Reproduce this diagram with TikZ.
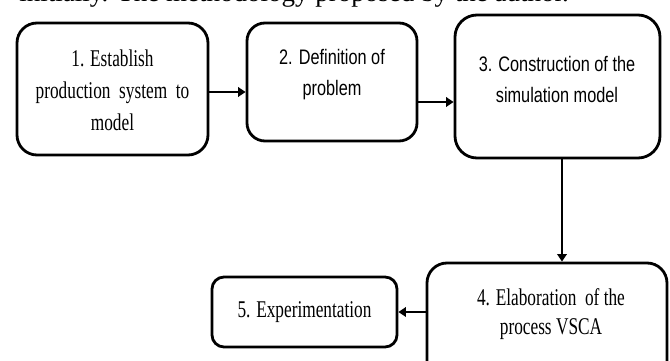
\documentclass[tikz,border=0pt]{standalone}
\usepackage{fontspec}
\setmainfont{Liberation Serif}
\newfontfamily\cserif[FakeStretch=0.72]{Liberation Serif}
\newfontfamily\csans[FakeStretch=0.776]{Liberation Sans}
\usetikzlibrary{arrows.meta}
\tikzset{
  boxnode/.style={draw=black, line width=2.8pt, fill=white, rectangle, inner sep=0pt},
  serift/.style={font=\fontsize{24}{32}\selectfont\cserif, align=center, inner sep=0pt},
  sanst/.style={font=\fontsize{21}{31}\selectfont\csans, align=center, inner sep=0pt},
  arr/.style={line width=2.7pt, -{Triangle[length=7.5pt,width=9.5pt]}}
}
\begin{document}
\begin{tikzpicture}[x=1pt,y=1pt]
\clip (0,0) rectangle (670,361);
\fill[white] (0,0) rectangle (670,361);
% clipped caption line at the top
\node[anchor=base, inner sep=0pt, font=\fontsize{27}{30}\selectfont] (cap) at (294,359) {initially. The methodology proposed by the author.};
% boxes
\node[boxnode, rounded corners=20pt, minimum width=191pt, minimum height=132pt] (b1) at (112.5,272) {};
\node[boxnode, rounded corners=18pt, minimum width=170pt, minimum height=118pt] (b2) at (332,279) {};
\node[boxnode, rounded corners=22pt, minimum width=205pt, minimum height=143pt] (b3) at (557.5,274.5) {};
\node[boxnode, rounded corners=20pt, minimum width=240pt, minimum height=122pt] (b4) at (547,37) {};
\node[boxnode, rounded corners=12pt, minimum width=185pt, minimum height=70pt] (b5) at (304.5,49) {};
% texts
\node[serift] (t1) at (112.5,271) {1. Establish\\production~ system~ to\\model};
\node[sanst] (t2) at (332,286) {2. Definition of\\problem};
\node[sanst] (t3) at (557,282) {3. Construction of the\\simulation model};
\node[serift, font=\fontsize{24}{29}\selectfont\cserif] (t4) at (551,47) {4. Elaboration~ of the\\process VSCA};
\node[serift] (t5) at (304.5,49) {5. Experimentation};
% connectors
\draw[arr] (b1.east |- 0,269) -- (b2.west |- 0,269);
\draw[arr] (b2.east |- 0,259) -- (b3.west |- 0,259);
\draw[arr] (b3.south -| 562,0) -- (b4.north -| 562,0);
\draw[arr] (b4.west |- b5.east) -- (b5.east);
\end{tikzpicture}
\end{document}
